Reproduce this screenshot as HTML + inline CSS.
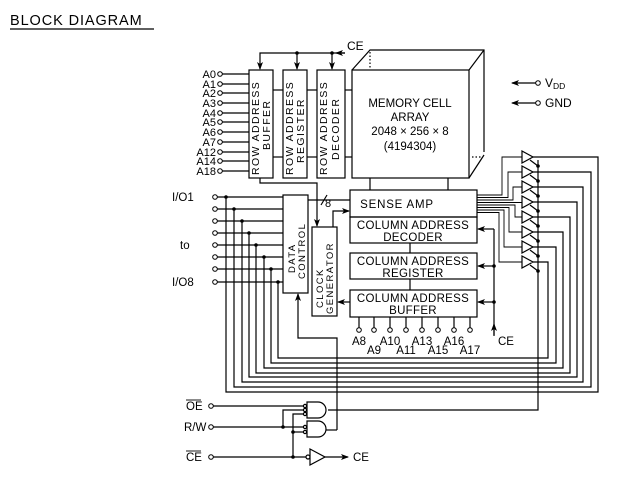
<!DOCTYPE html>
<html><head><meta charset="utf-8"><style>
html,body{margin:0;padding:0;background:#fff;}
svg{display:block;}
text{font-family:"Liberation Sans",sans-serif;fill:#000;}
</style></head><body>
<svg width="617" height="482" viewBox="0 0 617 482" xmlns="http://www.w3.org/2000/svg">
<defs>
<marker id="ar" markerWidth="8" markerHeight="6" refX="7" refY="3" orient="auto" markerUnits="userSpaceOnUse"><path d="M0,0 L8,3 L0,6 L2,3 z" fill="#000"/></marker>
</defs>
<g stroke="#000" stroke-width="1.2" fill="none">
<line x1="10" y1="29" x2="154" y2="29"/>
<rect x="249" y="70" width="24" height="108"/>
<rect x="283" y="70" width="24" height="108"/>
<rect x="317" y="70" width="28" height="108"/>
<line x1="273" y1="90" x2="283" y2="90"/><line x1="273" y1="157" x2="283" y2="157"/>
<line x1="307" y1="90" x2="317" y2="90"/><line x1="307" y1="157" x2="317" y2="157"/>
<line x1="345" y1="90" x2="352" y2="90"/><line x1="345" y1="157" x2="352" y2="157"/>
<polyline points="345,53 260,53 260,69" marker-end="url(#ar)"/>
<line x1="297" y1="53" x2="297" y2="69" marker-end="url(#ar)"/>
<line x1="332" y1="53" x2="332" y2="69" marker-end="url(#ar)"/>
<line x1="345" y1="53" x2="336" y2="53" marker-end="url(#ar)"/>
<rect x="352" y="70" width="117" height="108"/>
<polyline points="352,70 370,50 484,50 484,152"/>
<line x1="469" y1="70" x2="484" y2="50"/>
<line x1="469" y1="178" x2="484" y2="155"/>
<line x1="370" y1="52" x2="370" y2="68" stroke-dasharray="1.5,2"/>
<line x1="472" y1="157" x2="482" y2="157" stroke-dasharray="1.5,2"/>
<line x1="370" y1="178" x2="370" y2="190"/><line x1="448" y1="178" x2="448" y2="190"/>
<line x1="536" y1="83" x2="512" y2="83" marker-end="url(#ar)"/>
<line x1="536" y1="103" x2="512" y2="103" marker-end="url(#ar)"/>
<rect x="350" y="190" width="127" height="27"/>
<rect x="350" y="217" width="127" height="26"/>
<rect x="350" y="253" width="127" height="26"/>
<rect x="350" y="290" width="127" height="27"/>
<line x1="410" y1="243" x2="410" y2="253"/><line x1="410" y1="279" x2="410" y2="290"/>
<line x1="494" y1="335" x2="494" y2="229"/>
<line x1="494" y1="266" x2="478" y2="266" marker-end="url(#ar)"/>
<line x1="494" y1="302" x2="478" y2="302" marker-end="url(#ar)"/>
<line x1="494" y1="229" x2="478" y2="229" marker-end="url(#ar)"/>
<line x1="494" y1="336" x2="494" y2="324" marker-end="url(#ar)"/>
<line x1="359" y1="317" x2="359" y2="328"/><line x1="374" y1="317" x2="374" y2="328"/>
<line x1="390" y1="317" x2="390" y2="328"/><line x1="406" y1="317" x2="406" y2="328"/>
<line x1="422" y1="317" x2="422" y2="328"/><line x1="438" y1="317" x2="438" y2="328"/>
<line x1="454" y1="317" x2="454" y2="328"/><line x1="470" y1="317" x2="470" y2="328"/>
<rect x="283" y="195" width="25" height="98"/>
<rect x="312" y="227" width="25" height="89"/>
<polyline points="260,178 260,183 317,183 317,226" marker-end="url(#ar)"/>
<polyline points="333,227 333,211 349,211" marker-end="url(#ar)"/>
<line x1="308" y1="200" x2="350" y2="200"/>
<line x1="321" y1="205" x2="327" y2="195"/>
<line x1="350" y1="302" x2="338" y2="302" marker-end="url(#ar)"/>
<polyline points="337,430 337,338 298,338 298,294" marker-end="url(#ar)"/>
<line x1="222" y1="74" x2="249" y2="74"/><line x1="222" y1="84" x2="249" y2="84"/>
<line x1="222" y1="93" x2="249" y2="93"/><line x1="222" y1="103" x2="249" y2="103"/>
<line x1="222" y1="113" x2="249" y2="113"/><line x1="222" y1="122" x2="249" y2="122"/>
<line x1="222" y1="132" x2="249" y2="132"/><line x1="222" y1="142" x2="249" y2="142"/>
<line x1="222" y1="152" x2="249" y2="152"/><line x1="222" y1="161" x2="249" y2="161"/>
<line x1="222" y1="171" x2="249" y2="171"/>
<line x1="217" y1="197" x2="283" y2="197"/><line x1="217" y1="209" x2="283" y2="209"/>
<line x1="217" y1="221" x2="283" y2="221"/><line x1="217" y1="233" x2="283" y2="233"/>
<line x1="217" y1="245" x2="283" y2="245"/><line x1="217" y1="257" x2="283" y2="257"/>
<line x1="217" y1="269" x2="283" y2="269"/><line x1="217" y1="282" x2="283" y2="282"/>
<polyline points="226,197 226,392 598,392 598,157 533,157"/>
<polyline points="234,209 234,387 591,387 591,172 533,172"/>
<polyline points="242,221 242,382 583,382 583,187 533,187"/>
<polyline points="249,233 249,377 577,377 577,202 533,202"/>
<polyline points="256,245 256,373 570,373 570,217 533,217"/>
<polyline points="264,257 264,368 563,368 563,232 533,232"/>
<polyline points="271,269 271,363 556,363 556,247 533,247"/>
<polyline points="278,282 278,358 548,358 548,262 533,262"/>
<g stroke-width="0.9">
<polyline points="477,195 502,195 502,157 522,157"/>
<polyline points="477,197.5 508,197.5 508,172 522,172"/>
<polyline points="477,200 513,200 513,187 522,187"/>
<polyline points="477,202.5 522,202.5"/>
<polyline points="477,205 515,205 515,217 522,217"/>
<polyline points="477,207.5 509,207.5 509,232 522,232"/>
<polyline points="477,210 504,210 504,247 522,247"/>
<polyline points="477,212.5 499,212.5 499,262 522,262"/>
</g>
<path d="M522,151 L533,157 L522,163 Z M522,166 L533,172 L522,178 Z M522,181 L533,187 L522,193 Z M522,196 L533,202 L522,208 Z M522,211 L533,217 L522,223 Z M522,226 L533,232 L522,238 Z M522,241 L533,247 L522,253 Z M522,256 L533,262 L522,268 Z" fill="#fff"/>
<polyline points="538,160 538,410 328,410"/>
<line x1="530" y1="160" x2="538" y2="166"/><line x1="530" y1="175" x2="538" y2="181"/>
<line x1="530" y1="190" x2="538" y2="196"/><line x1="530" y1="205" x2="538" y2="211"/>
<line x1="530" y1="220" x2="538" y2="226"/><line x1="530" y1="235" x2="538" y2="241"/>
<line x1="530" y1="250" x2="538" y2="256"/><line x1="530" y1="265" x2="538" y2="271"/>
<line x1="213" y1="406" x2="304" y2="406"/>
<line x1="213" y1="427" x2="304" y2="427"/>
<line x1="213" y1="457" x2="306" y2="457"/>
<polyline points="283,427 283,410 304,410"/>
<polyline points="293,457 293,414 304,414"/>
<line x1="293" y1="432" x2="304" y2="432"/>
<path d="M307,402 L318,402 A8,8 0 0 1 318,418 L307,418 Z" fill="#fff"/>
<path d="M307,421 L318,421 A8,8 0 0 1 318,437 L307,437 Z" fill="#fff"/>
<line x1="326" y1="430" x2="337" y2="430"/>
<circle cx="305" cy="406" r="1.6" fill="#fff"/><circle cx="305" cy="410" r="1.6" fill="#fff"/><circle cx="305" cy="414" r="1.6" fill="#fff"/>
<circle cx="305" cy="427" r="1.6" fill="#fff"/><circle cx="305" cy="432" r="1.6" fill="#fff"/>
<circle cx="308" cy="457" r="2" fill="#fff"/>
<path d="M310,449 L325,457 L310,465 Z" fill="#fff"/>
<line x1="325" y1="457" x2="348" y2="457" marker-end="url(#ar)"/>
<g fill="#fff" stroke-width="1">
<circle cx="220" cy="74" r="2.3"/><circle cx="220" cy="84" r="2.3"/><circle cx="220" cy="93" r="2.3"/><circle cx="220" cy="103" r="2.3"/><circle cx="220" cy="113" r="2.3"/><circle cx="220" cy="122" r="2.3"/><circle cx="220" cy="132" r="2.3"/><circle cx="220" cy="142" r="2.3"/><circle cx="220" cy="152" r="2.3"/><circle cx="220" cy="161" r="2.3"/><circle cx="220" cy="171" r="2.3"/>
<circle cx="215" cy="197" r="2.3"/><circle cx="215" cy="209" r="2.3"/><circle cx="215" cy="221" r="2.3"/><circle cx="215" cy="233" r="2.3"/><circle cx="215" cy="245" r="2.3"/><circle cx="215" cy="257" r="2.3"/><circle cx="215" cy="269" r="2.3"/><circle cx="215" cy="282" r="2.3"/>
<circle cx="359" cy="330" r="2.3"/><circle cx="374" cy="330" r="2.3"/><circle cx="390" cy="330" r="2.3"/><circle cx="406" cy="330" r="2.3"/><circle cx="422" cy="330" r="2.3"/><circle cx="438" cy="330" r="2.3"/><circle cx="454" cy="330" r="2.3"/><circle cx="470" cy="330" r="2.3"/>
<circle cx="538" cy="83" r="2.3"/><circle cx="538" cy="103" r="2.3"/>
<circle cx="211" cy="406" r="2.3"/><circle cx="211" cy="427" r="2.3"/><circle cx="211" cy="457" r="2.3"/>
</g>
</g>
<g fill="#000">
<circle cx="297" cy="53" r="1.8"/><circle cx="332" cy="53" r="1.8"/>
<circle cx="226" cy="197" r="1.8"/><circle cx="234" cy="209" r="1.8"/><circle cx="242" cy="221" r="1.8"/><circle cx="249" cy="233" r="1.8"/><circle cx="256" cy="245" r="1.8"/><circle cx="264" cy="257" r="1.8"/><circle cx="271" cy="269" r="1.8"/><circle cx="278" cy="282" r="1.8"/>
<circle cx="494" cy="266" r="1.8"/><circle cx="494" cy="302" r="1.8"/>
<circle cx="538" cy="166" r="1.8"/><circle cx="538" cy="181" r="1.8"/><circle cx="538" cy="196" r="1.8"/><circle cx="538" cy="211" r="1.8"/><circle cx="538" cy="226" r="1.8"/><circle cx="538" cy="241" r="1.8"/><circle cx="538" cy="256" r="1.8"/><circle cx="538" cy="271" r="1.8"/>
<circle cx="283" cy="427" r="1.8"/><circle cx="293" cy="432" r="1.8"/><circle cx="293" cy="457" r="1.8"/>
</g>
<text x="10" y="25" font-size="14.5" letter-spacing="0.9">BLOCK  DIAGRAM</text>
<text x="347" y="50" font-size="12">CE</text>
<g font-size="11" text-anchor="end">
<text x="216" y="78">A0</text><text x="216" y="88">A1</text><text x="216" y="97">A2</text><text x="216" y="107">A3</text><text x="216" y="117">A4</text><text x="216" y="126">A5</text><text x="216" y="136">A6</text><text x="216" y="146">A7</text><text x="216" y="156">A12</text><text x="216" y="165">A14</text><text x="216" y="175">A18</text>
</g>
<g font-size="10.5" letter-spacing="1.4">
<text transform="translate(259,175) rotate(-90)">ROW ADDRESS</text>
<text transform="translate(270,150) rotate(-90)">BUFFER</text>
<text transform="translate(293,175) rotate(-90)">ROW ADDRESS</text>
<text transform="translate(304,163) rotate(-90)">REGISTER</text>
<text transform="translate(327,175) rotate(-90)">ROW ADDRESS</text>
<text transform="translate(339,160) rotate(-90)">DECODER</text>
<text transform="translate(295,273) rotate(-90)" font-size="9.5">DATA</text>
<text transform="translate(305,279) rotate(-90)" font-size="9.5">CONTROL</text>
<text transform="translate(323,308) rotate(-90)" font-size="9.5">CLOCK</text>
<text transform="translate(333,314) rotate(-90)" font-size="9.5">GENERATOR</text>
</g>
<g font-size="11.5" text-anchor="middle">
<text x="410" y="107">MEMORY CELL</text>
<text x="410" y="121">ARRAY</text>
<text x="410" y="135">2048 × 256 × 8</text>
<text x="410" y="150">(4194304)</text>
<text x="397" y="208" letter-spacing="0.8">SENSE AMP</text>
<text x="413" y="229" letter-spacing="0.3">COLUMN ADDRESS</text><text x="413" y="241" letter-spacing="0.3">DECODER</text>
<text x="413" y="265" letter-spacing="0.3">COLUMN ADDRESS</text><text x="413" y="277" letter-spacing="0.3">REGISTER</text>
<text x="413" y="302" letter-spacing="0.3">COLUMN ADDRESS</text><text x="413" y="314" letter-spacing="0.3">BUFFER</text>
<text x="359" y="345">A8</text><text x="374" y="354">A9</text><text x="390" y="345">A10</text><text x="406" y="354">A11</text><text x="422" y="345">A13</text><text x="438" y="354">A15</text><text x="454" y="345">A16</text><text x="470" y="354">A17</text>
</g>
<text x="498" y="345" font-size="11.5">CE</text>
<text x="325" y="207" font-size="11">8</text>
<text x="545" y="87" font-size="12">V<tspan font-size="8.5" dy="2">DD</tspan></text>
<text x="545" y="107" font-size="12">GND</text>
<g font-size="11.5">
<text x="172" y="201">I/O1</text><text x="180" y="249">to</text><text x="172" y="286">I/O8</text>
<text x="186" y="410">OE</text><text x="184" y="431">R/W</text><text x="186" y="461">CE</text>
<text x="353" y="461">CE</text>
</g>
<g stroke="#000" stroke-width="0.9"><line x1="186" y1="400" x2="201" y2="400"/><line x1="186" y1="451" x2="201" y2="451"/></g>
</svg>
</body></html>
